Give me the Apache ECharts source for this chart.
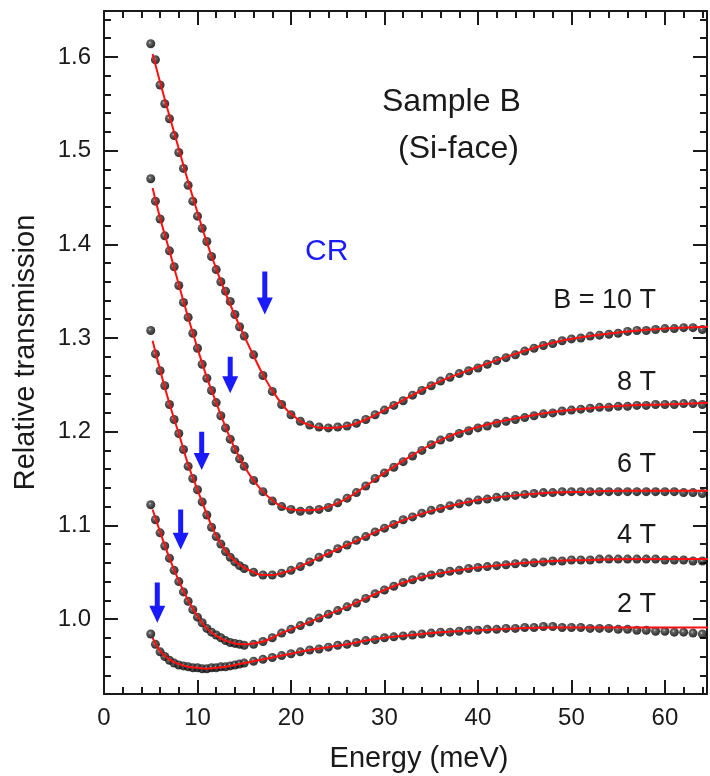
<!DOCTYPE html>
<html>
<head>
<meta charset="utf-8">
<script src="https://cdn.jsdelivr.net/npm/echarts@6.0.0/dist/echarts.min.js"></script>
<style>
  html, body { margin: 0; padding: 0; background: #fff; }
  #chart { width: 710px; height: 776px; }
</style>
</head>
<body>
<div id="chart"></div>
<script>
// measured points, shared energy grid (meV)
const energy = [5, 5.5, 6, 6.5, 7, 7.5, 8, 8.5, 9, 9.5, 10, 10.5, 11, 11.5, 12, 12.5, 13, 13.5, 14, 14.5,
  15, 16, 17, 18, 19, 20, 21, 22, 23, 24, 25, 26, 27, 28, 29, 30, 31, 32, 33, 34, 35, 36, 37, 38, 39,
  40, 41, 42, 43, 44, 45, 46, 47, 48, 49, 50, 51, 52, 53, 54, 55, 56, 57, 58, 59, 60, 61, 62, 63, 64];

const data10T = [1.614, 1.597, 1.570, 1.550, 1.534, 1.516, 1.498, 1.481, 1.463, 1.446, 1.430, 1.417, 1.403, 1.387, 1.373, 1.360, 1.350, 1.339, 1.325, 1.312,
  1.302, 1.282, 1.260, 1.243, 1.229, 1.218, 1.211, 1.207, 1.205, 1.204, 1.205, 1.206, 1.209, 1.213, 1.218, 1.223, 1.228, 1.233, 1.239, 1.244,
  1.249, 1.254, 1.258, 1.262, 1.265, 1.268, 1.272, 1.276, 1.279, 1.282, 1.286, 1.289, 1.292, 1.294, 1.297, 1.299, 1.300, 1.302, 1.303, 1.304,
  1.305, 1.307, 1.308, 1.308, 1.309, 1.310, 1.310, 1.311, 1.311, 1.309];
const data8T = [1.470, 1.446, 1.427, 1.409, 1.393, 1.376, 1.356, 1.338, 1.322, 1.305, 1.289, 1.272, 1.257, 1.244, 1.231, 1.217, 1.204, 1.192, 1.181, 1.171,
  1.163, 1.148, 1.136, 1.126, 1.120, 1.117, 1.115, 1.116, 1.117, 1.119, 1.124, 1.129, 1.135, 1.142, 1.150, 1.156, 1.162, 1.168, 1.174, 1.180,
  1.186, 1.191, 1.194, 1.198, 1.201, 1.204, 1.206, 1.209, 1.211, 1.213, 1.215, 1.217, 1.219, 1.220, 1.222, 1.223, 1.224, 1.225, 1.226, 1.226,
  1.227, 1.227, 1.228, 1.228, 1.229, 1.229, 1.229, 1.230, 1.230, 1.229];
const data6T = [1.308, 1.283, 1.265, 1.249, 1.229, 1.213, 1.198, 1.181, 1.163, 1.150, 1.138, 1.125, 1.111, 1.098, 1.088, 1.080, 1.072, 1.066, 1.061, 1.057,
  1.054, 1.050, 1.047, 1.047, 1.049, 1.052, 1.056, 1.061, 1.066, 1.070, 1.075, 1.079, 1.084, 1.088, 1.093, 1.097, 1.101, 1.106, 1.109, 1.113,
  1.116, 1.118, 1.121, 1.123, 1.125, 1.127, 1.128, 1.130, 1.131, 1.132, 1.133, 1.134, 1.135, 1.135, 1.136, 1.136, 1.136, 1.136, 1.136, 1.136,
  1.136, 1.136, 1.136, 1.136, 1.136, 1.136, 1.136, 1.135, 1.135, 1.134];
const data4T = [1.122, 1.106, 1.092, 1.078, 1.065, 1.052, 1.040, 1.029, 1.019, 1.010, 1.002, 0.996, 0.990, 0.986, 0.983, 0.980, 0.977, 0.975, 0.974, 0.973,
  0.972, 0.973, 0.976, 0.980, 0.985, 0.989, 0.993, 0.997, 1.001, 1.005, 1.009, 1.013, 1.017, 1.022, 1.027, 1.031, 1.035, 1.039, 1.042, 1.045,
  1.047, 1.049, 1.051, 1.052, 1.054, 1.055, 1.056, 1.057, 1.058, 1.059, 1.060, 1.060, 1.061, 1.062, 1.062, 1.063, 1.063, 1.063, 1.064, 1.064,
  1.064, 1.064, 1.064, 1.064, 1.064, 1.063, 1.063, 1.063, 1.062, 1.062];
const data2T = [0.984, 0.973, 0.965, 0.960, 0.956, 0.953, 0.951, 0.950, 0.949, 0.948, 0.948, 0.947, 0.947, 0.948, 0.948, 0.949, 0.949, 0.950, 0.951, 0.952,
  0.953, 0.955, 0.957, 0.959, 0.961, 0.963, 0.965, 0.967, 0.968, 0.970, 0.972, 0.973, 0.975, 0.977, 0.978, 0.980, 0.981, 0.982, 0.983, 0.984,
  0.985, 0.986, 0.986, 0.987, 0.988, 0.988, 0.989, 0.989, 0.990, 0.990, 0.991, 0.991, 0.992, 0.992, 0.991, 0.991, 0.991, 0.990, 0.990, 0.990,
  0.989, 0.989, 0.988, 0.988, 0.987, 0.987, 0.986, 0.986, 0.985, 0.984];

// fitted curves (red)
const fitEnergy = [5.2, 6, 7, 8, 9, 10, 11, 12, 13, 14, 15, 16, 17, 18, 19, 20, 22, 24, 26, 28, 30, 33, 36, 40, 44, 48, 52, 56, 60, 65];
const fit10T = [1.603, 1.573, 1.537, 1.502, 1.467, 1.434, 1.402, 1.374, 1.348, 1.324, 1.302, 1.281, 1.261, 1.244, 1.230, 1.219, 1.207, 1.204, 1.206, 1.213, 1.223, 1.239, 1.254, 1.269, 1.283, 1.295, 1.302, 1.307, 1.310, 1.312];
const fit8T = [1.460, 1.428, 1.393, 1.357, 1.322, 1.289, 1.258, 1.231, 1.205, 1.182, 1.163, 1.148, 1.136, 1.127, 1.120, 1.117, 1.116, 1.120, 1.129, 1.142, 1.156, 1.175, 1.191, 1.205, 1.214, 1.221, 1.225, 1.228, 1.229, 1.231];
const fit6T = [1.297, 1.266, 1.230, 1.198, 1.165, 1.138, 1.112, 1.089, 1.073, 1.062, 1.055, 1.050, 1.047, 1.047, 1.049, 1.052, 1.061, 1.070, 1.079, 1.088, 1.097, 1.109, 1.118, 1.127, 1.132, 1.135, 1.136, 1.137, 1.137, 1.137];
const fit4T = [1.117, 1.093, 1.065, 1.041, 1.020, 1.003, 0.990, 0.982, 0.977, 0.974, 0.973, 0.974, 0.976, 0.980, 0.985, 0.989, 0.997, 1.005, 1.013, 1.022, 1.031, 1.042, 1.049, 1.055, 1.059, 1.062, 1.063, 1.064, 1.064, 1.064];
const fit2T = [0.980, 0.966, 0.957, 0.952, 0.949, 0.948, 0.947, 0.948, 0.949, 0.951, 0.953, 0.955, 0.957, 0.959, 0.961, 0.963, 0.967, 0.970, 0.973, 0.977, 0.980, 0.983, 0.986, 0.988, 0.990, 0.991, 0.991, 0.991, 0.991, 0.991];

// CR arrows: energy, tail and tip (transmission units)
const arrowE = [17.2, 13.5, 10.45, 8.2, 5.7];
const arrowTail = [1.371, 1.280, 1.200, 1.117, 1.039];
const arrowTip = [1.325, 1.241, 1.159, 1.074, 0.996];

const xMajor = [0, 10, 20, 30, 40, 50, 60];
const yMajor = [1.0, 1.1, 1.2, 1.3, 1.4, 1.5, 1.6];

const X_MIN = 0, X_MAX = 64.5, Y_MIN = 0.92, Y_MAX = 1.649;
const FONT = "'Liberation Sans', Arial, Helvetica, sans-serif";
const INK = '#1a1a1a';

const xMinor = [];
for (let v = 0; v <= 64; v += 2) xMinor.push(v);
const yMinor = [];
for (let i = 46; i <= 82; i++) yMinor.push(+(i * 0.02).toFixed(2));

const chart = echarts.init(document.getElementById('chart'));

const dotColor = {
  type: 'radial', x: 0.4, y: 0.38, r: 0.62,
  colorStops: [
    { offset: 0, color: '#cfcfcf' },
    { offset: 0.22, color: '#444' },
    { offset: 0.7, color: '#111' },
    { offset: 1, color: '#000' },
  ],
};

function axis(kind, position, ticks, len, opts = {}) {
  return Object.assign({
    type: 'value',
    position,
    min: kind === 'x' ? X_MIN : Y_MIN,
    max: kind === 'x' ? X_MAX : Y_MAX,
    splitLine: { show: false },
    axisLine: { show: !!opts.line, onZero: false, lineStyle: { color: INK, width: 2 } },
    axisTick: { show: true, inside: true, length: len, customValues: ticks, lineStyle: { color: INK, width: 2 } },
    axisLabel: { show: false },
  }, opts.extra || {});
}

const xAxes = [
  axis('x', 'bottom', xMinor, 7, {
    line: true,
    extra: {
      name: 'Energy (meV)',
      nameLocation: 'middle',
      nameGap: 50,
      nameTextStyle: { fontFamily: FONT, fontSize: 29, color: INK, padding: [0, 0, 0, 27] },
    },
  }),
  axis('x', 'bottom', xMajor, 14),
  axis('x', 'top', xMinor, 7, { line: true }),
  axis('x', 'top', xMajor, 14),
];
xAxes[0].axisLabel = { show: true, customValues: xMajor, margin: 12, fontFamily: FONT, fontSize: 24, color: INK };

const yAxes = [
  axis('y', 'left', yMinor, 7, {
    line: true,
    extra: {
      name: 'Relative transmission',
      nameLocation: 'middle',
      nameGap: 64,
      nameTextStyle: { fontFamily: FONT, fontSize: 29, color: INK },
    },
  }),
  axis('y', 'left', yMajor, 14),
  axis('y', 'right', yMinor, 7, { line: true }),
  axis('y', 'right', yMajor, 14),
];
yAxes[0].axisLabel = {
  show: true, customValues: yMajor, margin: 13, fontFamily: FONT, fontSize: 24, color: INK,
  formatter: (v) => v.toFixed(1),
};

const sets = [
  ['10 T', data10T, fit10T],
  ['8 T', data8T, fit8T],
  ['6 T', data6T, fit6T],
  ['4 T', data4T, fit4T],
  ['2 T', data2T, fit2T],
];

const series = [];
sets.forEach(([name, pts, fit]) => {
  series.push({
    name: name + ' data',
    type: 'scatter',
    data: energy.map((e, i) => [e, pts[i]]),
    symbolSize: 9,
    itemStyle: { color: dotColor },
    z: 2,
    silent: true,
  });
  series.push({
    name: name + ' fit',
    type: 'line',
    data: fitEnergy.map((e, i) => [e, fit[i]]),
    smooth: true,
    showSymbol: false,
    lineStyle: { color: '#ff1010', width: 2 },
    z: 3,
    silent: true,
  });
});

series.push({
  name: 'CR',
  type: 'custom',
  data: arrowE.map((e, i) => [e, arrowTail[i], arrowTip[i]]),
  z: 4,
  silent: true,
  renderItem(params, api) {
    const tail = api.coord([api.value(0), api.value(1)]);
    const tip = api.coord([api.value(0), api.value(2)]);
    const x = tip[0];
    const sw = 2.5, hw = 8, hl = 17;
    return {
      type: 'polygon',
      shape: {
        points: [
          [x - sw, tail[1]], [x + sw, tail[1]], [x + sw, tip[1] - hl], [x + hw, tip[1] - hl],
          [x, tip[1]], [x - hw, tip[1] - hl], [x - sw, tip[1] - hl],
        ],
      },
      style: { fill: '#1a1aff' },
    };
  },
});

function label(text, x, y, size, color, align) {
  return {
    type: 'text',
    x, y,
    style: {
      text, fontFamily: FONT, fontSize: size, fill: color || INK,
      align: align || 'left', verticalAlign: 'middle',
    },
    z: 10,
  };
}

chart.setOption({
  animation: false,
  backgroundColor: '#fff',
  grid: { left: 104, right: 3, top: 11, bottom: 82, outerBoundsMode: 'none' },
  xAxis: xAxes,
  yAxis: yAxes,
  series,
  graphic: [
    label('Sample B', 382, 102, 32),
    label('(Si-face)', 398, 149, 32),
    label('CR', 305, 252, 30, '#1a1aff'),
    label('B = 10 T', 656, 301, 27, INK, 'right'),
    label('8 T', 656, 383, 27, INK, 'right'),
    label('6 T', 656, 465, 27, INK, 'right'),
    label('4 T', 656, 536, 27, INK, 'right'),
    label('2 T', 656, 605, 27, INK, 'right'),
  ],
});
</script>
</body>
</html>
